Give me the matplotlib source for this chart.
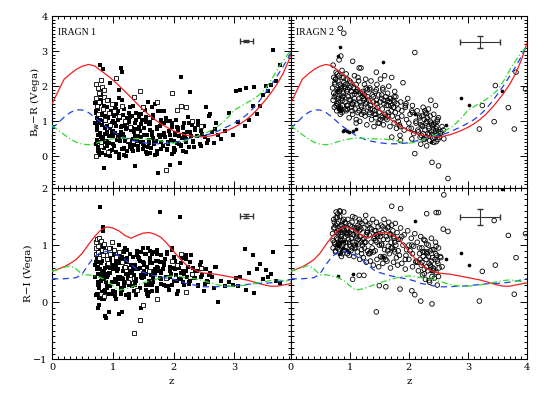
import matplotlib
matplotlib.use("Agg")
import matplotlib.pyplot as plt
from matplotlib.ticker import MultipleLocator

plt.rcParams["font.family"] = ["DejaVu Serif"]

# template redshift grid for the model tracks
tz = [0.0, 0.1, 0.2, 0.3, 0.4, 0.5, 0.6, 0.7, 0.8, 0.9, 1.0, 1.1, 1.2, 1.3,
      1.4, 1.5, 1.6, 1.7, 1.8, 1.9, 2.0, 2.1, 2.2, 2.3, 2.4, 2.5, 2.6, 2.7,
      2.8, 2.9, 3.0, 3.1, 3.2, 3.3, 3.4, 3.5, 3.6, 3.7, 3.8, 3.9, 4.0]

# Bw-R tracks
bwr_red = [1.50, 1.85, 2.20, 2.35, 2.48, 2.57, 2.62, 2.58, 2.45, 2.32, 2.18, 2.02,
           1.85, 1.68, 1.50, 1.33, 1.18, 1.04, 0.92, 0.82, 0.73, 0.66, 0.61, 0.58,
           0.56, 0.56, 0.58, 0.62, 0.68, 0.75, 0.83, 0.93, 1.05, 1.20, 1.38, 1.58,
           1.80, 2.05, 2.35, 2.75, 3.25]
bwr_blue = [0.80, 0.95, 1.12, 1.25, 1.33, 1.32, 1.25, 1.12, 0.97, 0.83, 0.72, 0.60,
            0.52, 0.46, 0.42, 0.39, 0.37, 0.36, 0.36, 0.37, 0.39, 0.43, 0.48, 0.53,
            0.57, 0.60, 0.64, 0.70, 0.78, 0.86, 0.95, 1.05, 1.18, 1.35, 1.55, 1.78,
            2.02, 2.28, 2.55, 2.85, 3.20]
bwr_green = [0.88, 0.75, 0.62, 0.50, 0.40, 0.35, 0.33, 0.36, 0.42, 0.47, 0.50, 0.52,
             0.52, 0.51, 0.50, 0.50, 0.49, 0.47, 0.44, 0.40, 0.38, 0.40, 0.45, 0.52,
             0.58, 0.65, 0.72, 0.82, 0.95, 1.12, 1.32, 1.42, 1.52, 1.62, 1.74, 1.90,
             2.15, 2.45, 2.72, 2.95, 3.15]

# R-I tracks
ri_red = [0.54, 0.58, 0.62, 0.68, 0.75, 0.86, 1.01, 1.15, 1.26, 1.32, 1.30, 1.25,
          1.17, 1.12, 1.17, 1.21, 1.22, 1.19, 1.13, 1.02, 0.89, 0.77, 0.66, 0.59,
          0.54, 0.51, 0.50, 0.49, 0.47, 0.45, 0.43, 0.41, 0.39, 0.36, 0.33, 0.30,
          0.28, 0.28, 0.30, 0.32, 0.34]
ri_blue = [0.41, 0.41, 0.41, 0.42, 0.43, 0.50, 0.66, 0.80, 0.87, 0.89, 0.86, 0.81,
           0.75, 0.66, 0.57, 0.52, 0.49, 0.46, 0.44, 0.42, 0.40, 0.37, 0.33, 0.31,
           0.29, 0.27, 0.27, 0.27, 0.28, 0.28, 0.29, 0.30, 0.31, 0.32, 0.33, 0.33,
           0.34, 0.35, 0.37, 0.39, 0.41]
ri_green = [0.54, 0.57, 0.61, 0.64, 0.58, 0.48, 0.48, 0.46, 0.43, 0.38, 0.29, 0.21,
            0.23, 0.26, 0.30, 0.34, 0.37, 0.40, 0.43, 0.45, 0.46, 0.45, 0.43, 0.42,
            0.40, 0.37, 0.34, 0.31, 0.29, 0.28, 0.28, 0.29, 0.30, 0.32, 0.34, 0.36,
            0.38, 0.39, 0.38, 0.36, 0.34]

# IRAGN 1, filled squares
z1 = [0.71, 0.72, 0.74, 0.75, 0.76, 0.78, 0.79, 0.81, 0.83, 0.85,
      0.86, 0.88, 0.89, 0.72, 0.74, 0.77, 0.80, 0.82, 0.84, 0.87,
      0.90, 0.73, 0.76, 0.79, 0.81, 0.85, 0.88, 0.71, 0.75, 0.83,
      0.78, 0.80, 0.86, 0.89, 0.74, 0.77, 0.82, 0.84, 0.87, 0.90,
      0.92, 0.94, 0.95, 0.97, 0.98, 0.93, 0.96, 0.99, 0.91, 0.95,
      1.00, 1.01, 1.02, 1.04, 1.05, 1.06, 1.08, 1.09, 1.10, 1.12,
      1.13, 1.14, 1.15, 1.17, 1.18, 1.19, 1.21, 1.22, 1.24, 1.25,
      1.26, 1.28, 1.29, 1.03, 1.07, 1.11, 1.16, 1.20, 1.23, 1.27,
      1.00, 1.05, 1.09, 1.13, 1.18, 1.22, 1.26, 1.30, 1.02, 1.15,
      1.08, 1.12, 1.19, 1.24, 1.28, 1.04, 1.10, 1.17, 1.21, 1.29,
      1.31, 1.33, 1.35, 1.36, 1.38, 1.40, 1.42, 1.44, 1.45, 1.47,
      1.48, 1.50, 1.52, 1.53, 1.55, 1.57, 1.58, 1.60, 1.62, 1.63,
      1.65, 1.67, 1.68, 1.70, 1.72, 1.74, 1.75, 1.77, 1.79, 1.80,
      1.32, 1.37, 1.41, 1.46, 1.51, 1.56, 1.61, 1.66, 1.71, 1.76,
      1.34, 1.39, 1.43, 1.49, 1.54, 1.59, 1.64, 1.69, 1.73, 1.78,
      1.36, 1.40, 1.47, 1.52, 1.58, 1.62, 1.68, 1.72, 1.78, 1.44,
      1.82, 1.84, 1.86, 1.88, 1.90, 1.92, 1.94, 1.96, 1.98, 2.00,
      2.02, 2.04, 2.06, 2.08, 2.10, 2.12, 2.14, 2.16, 2.18, 2.20,
      2.22, 2.24, 2.26, 2.28, 2.30, 1.85, 1.91, 1.97, 2.03, 2.09,
      2.15, 2.21, 2.27, 1.83, 1.89, 1.95, 2.01, 2.07, 2.13, 2.19,
      2.32, 2.35, 2.38, 2.41, 2.44, 2.47, 2.50, 2.53, 2.56, 2.60,
      2.63, 2.66, 2.70, 2.74, 2.78, 2.36, 2.45, 2.52, 2.58, 2.68,
      2.85, 2.92, 2.98, 3.02, 3.06, 3.10, 3.17, 3.20, 3.24, 3.30,
      3.33, 3.38, 3.42, 3.48, 3.52, 3.55, 3.60, 3.63, 3.68, 3.75,
      0.76, 0.84, 0.93, 0.98, 1.06, 1.11, 1.23, 1.35, 1.55, 1.65,
      0.75, 0.79, 0.83, 0.87, 0.91, 0.96, 1.01, 1.07, 1.13, 1.19,
      1.25, 1.31, 1.37, 1.43, 1.49, 1.55, 1.61, 1.67, 1.73, 1.79,
      1.85, 1.91, 1.97, 2.03, 2.09, 2.15, 2.21, 2.27, 2.33, 2.40,
      0.74, 0.78, 0.82, 0.86, 0.90, 0.95, 1.00, 1.05, 1.10, 1.15,
      1.20, 1.26, 1.33, 1.39, 1.46, 1.52, 1.59, 1.65, 1.72, 1.80,
      1.88, 1.94, 2.00, 2.06, 2.12, 2.18, 2.25, 2.32, 2.45, 2.55]
bwr1 = [1.52, 0.35, 1.10, 0.62, 1.35, 0.20, 2.60, 1.75, 0.90, -0.33,
        1.45, 0.80, 0.05, 1.25, 0.48, 0.95, 1.62, 0.30, 2.48, 1.15,
        0.70, 1.30, 0.15, 1.05, 0.55, 1.40, 0.85, 0.95, 0.40, 1.20,
        0.60, 1.55, 0.25, 1.00, 0.75, 1.48, 0.10, 1.92, 0.65, 0.45,
        1.10, 0.38, 0.82, 1.28, 0.18, 0.58, 2.08, 0.95, 1.40, 0.02,
        0.72, 1.22, 0.30, 0.95, 1.50, 0.12, 0.62, 1.05, 1.88, 0.44,
        0.85, 2.52, 0.20, 1.18, 0.55, 1.35, 0.00, 0.78, 1.10, 0.40,
        0.98, 0.28, 1.42, 0.68, 1.20, 0.50, 1.60, 0.90, 0.15, 1.25,
        0.35, 0.88, 1.30, 0.60, 0.05, 1.00, 0.45, 0.75, 1.15, 2.40,
        0.55, 1.08, 0.22, 0.82, 0.38, 1.38, -0.05, 0.65, 0.95, 1.12,
        0.80, 1.45, 0.32, -0.27, 1.05, 0.58, 0.18, 1.22, 0.72, 0.42,
        1.05, 0.35, 0.80, 1.32, 0.12, 0.62, 1.55, 0.48, 0.92, 0.25,
        0.68, 1.18, 0.40, 0.05, 0.85, -0.48, 1.30, 0.55, 0.20, 0.95,
        1.15, 0.65, 0.30, 0.92, 1.40, 0.08, 0.75, 1.10, 0.45, 0.60,
        0.50, 1.25, 0.85, 0.20, 1.05, 0.38, 0.70, 1.50, 0.15, 0.88,
        0.95, 0.45, 1.20, 0.62, 0.28, 1.00, 0.35, 0.80, 1.28, 0.72,
        0.30, 0.95, 0.55, 1.10, 0.18, 0.72, -0.24, 0.48, 0.85, 0.25,
        0.62, 1.05, 0.38, 0.80, -0.20, 2.27, 0.52, 0.15, 0.95, 0.42,
        0.70, 1.12, 0.28, 0.58, 0.90, 1.30, 0.40, 0.08, 0.68, 0.35,
        0.85, 0.50, 1.83, 0.62, 0.22, 1.00, 0.45, 0.75, 0.30, 0.55,
        0.42, 0.75, 0.58, 1.02, 0.35, 0.65, 0.88, 1.41, 0.48, 1.20,
        0.70, 0.38, 0.95, 0.60, 0.50, 0.82, 0.30, 0.55, 1.15, 0.78,
        0.72, 1.24, 0.60, 1.86, 0.98, 1.90, 0.86, 1.95, 1.05, 1.43,
        1.98, 1.20, 1.45, 1.75, 2.00, 1.86, 2.03, 3.02, 2.15, 2.60,
        0.98, 0.52, 1.60, 0.70, 0.88, 1.65, 0.95, 0.70, 1.12, 1.42,
        0.28, 0.68, 1.18, 0.42, 0.88, 0.15, 1.02, 0.48, 0.70, 0.25,
        0.82, 0.22, 0.62, 1.12, 0.40, 0.98, 0.10, 0.52, 0.78, 1.05,
        0.68, 0.35, 0.95, 0.18, 0.58, 0.82, 0.12, 0.70, 0.28, 0.90,
        0.85, 0.05, 0.50, 1.00, 0.30, 1.22, 0.58, 1.35, 0.08, 0.88,
        0.45, 1.05, 0.15, 0.78, 0.55, 0.30, 0.92, 0.62, 0.08, 0.42,
        1.00, 0.60, 0.12, 0.85, 0.32, 0.65, 0.95, 0.45, 0.72, 0.38]
ri1 = [0.45, 0.12, 0.78, 0.30, 0.62, -0.05, 1.67, 0.88, 0.40, 0.20,
       0.55, -0.25, 0.35, 0.70, 0.15, 0.92, 0.48, 0.05, 1.32, 0.60,
       0.25, 0.82, -0.10, 0.58, 0.38, 0.95, 0.18, 0.65, 0.50, 0.72,
       0.08, 0.68, 0.42, -0.28, 0.85, 0.30, 0.55, 1.25, 0.22, 0.62,
       0.48, 0.15, 0.75, 0.95, 0.35, -0.18, 0.60, 0.82, 0.28, 0.52,
       0.65, 0.20, 0.88, 0.40, 0.05, 0.72, 0.32, 0.58, 1.00, 0.45,
       0.78, 0.25, -0.18, 0.55, 0.90, 0.35, 0.62, 0.12, 0.70, 0.48,
       0.30, 0.85, 0.52, 0.18, 0.68, -0.20, 0.42, 0.95, 0.60, 0.08,
       0.58, 0.38, 0.72, 0.22, 0.88, 0.50, 0.15, 0.65, 0.35, 0.80,
       0.45, 0.68, 0.28, 0.92, 0.55, 0.10, 0.75, 0.40, 0.62, 0.32,
       0.52, 0.80, 0.20, 0.65, 0.38, 0.90, 0.58, 0.25, 0.72, -0.10,
       0.42, 0.70, 0.55, 0.85, 0.30, 0.62, 0.95, 0.18, 0.75, 0.48,
       0.68, 0.35, 0.88, 0.52, 0.25, 0.72, 0.60, 1.58, 0.40, 0.82,
       0.28, 0.58, 0.80, 0.45, 0.68, 0.15, 0.90, 0.38, 0.72, 0.55,
       0.62, 0.40, 0.75, 0.95, 0.50, 0.30, 0.85, 0.58, 0.20, 0.70,
       0.35, 0.82, 0.48, 0.65, 0.10, 0.78, 0.55, 0.92, 0.42, 0.60,
       0.58, 0.30, 0.75, 0.45, 0.85, 0.22, 0.62, 0.50, 0.95, 0.38,
       0.72, 0.48, 0.15, 0.65, 1.49, 0.40, 0.78, 0.55, 0.30, 0.82,
       0.45, 0.62, 0.35, 0.82, 0.50, 0.68, 0.28, 0.92, 0.58, 0.40,
       0.55, 0.75, 0.38, 0.70, 0.88, 0.45, 0.60, 0.20, 0.52, 0.78,
       0.60, 0.42, 0.55, 0.30, 0.65, 0.48, 0.20, 0.58, 0.35, 0.52,
       0.45, 0.25, 0.62, 0.00, 0.38, 0.55, 0.70, 0.32, 0.48, 0.62,
       0.29, 0.35, 0.30, 0.42, 0.28, 0.44, 0.94, 0.22, 0.51, 0.82,
       0.16, 0.58, 0.67, 0.40, 0.56, 0.45, 0.50, 0.88, 0.38, 0.34,
       0.70, 0.98, 0.52, 0.85, 0.62, 0.40, 0.78, 0.48, 0.85, 0.30,
       0.35, 0.72, 0.18, 0.50, 0.66, 0.28, 0.82, 0.55, 0.15, 0.60,
       0.42, 0.65, 0.30, 0.78, 0.50, 0.22, 0.68, 0.45, 0.85, 0.32,
       0.65, 0.42, 0.30, 0.72, 0.60, 0.35, 0.55, 0.70, 0.42, 0.28,
       0.58, 0.25, 0.90, 0.05, 0.45, 0.70, 0.15, 0.38, 0.85, 0.22,
       0.75, 0.32, 0.58, 0.12, 0.88, 0.45, 0.38, 0.20, 0.62, 0.52,
       0.28, 0.55, 0.80, 0.38, 0.68, 0.50, 0.32, 0.60, 0.45, 0.38]

# IRAGN 1, open squares
z1o = [0.72, 0.73, 0.73, 0.74, 0.75, 0.76, 0.77, 0.78, 0.80, 0.82,
       0.84, 0.86, 0.88, 0.90, 0.93, 0.95, 0.98, 1.02, 1.05, 1.10,
       1.15, 1.20, 1.28, 1.35, 1.44, 1.50, 1.60, 1.72, 1.87, 1.98,
       2.05, 2.12, 2.20, 2.30, 2.45, 0.80, 0.92, 1.25, 1.40, 0.85]
bwr1o = [2.05, 1.67, 0.02, 1.45, 1.95, 1.20, 1.80, 1.55, 2.19, 1.98,
         1.35, 1.70, 1.05, 1.60, 1.25, 0.90, 1.50, 1.30, 2.24, 1.15,
         1.45, 1.00, 0.85, 1.68, 1.85, 1.40, 1.10, 1.55, -0.38, 1.80,
         1.33, 1.43, 1.40, 1.02, 0.88, 0.30, 0.12, 0.48, 0.70, 1.88]
ri1o = [0.95, 1.05, 0.85, 1.10, 0.98, 0.88, 1.12, 0.78, 1.08, 0.92,
        0.82, 1.02, 0.90, 0.75, 0.95, 0.85, 1.05, 0.92, 0.80, 0.88,
        0.70, 0.62, 0.40, -0.54, -0.32, -0.05, 0.55, 0.05, 0.42, 0.72,
        0.65, 0.85, 0.17, 0.50, 0.60, 0.15, 0.68, 0.35, 0.22, 0.10]

# IRAGN 2, open circles
z2 = [0.71, 0.72, 0.73, 0.74, 0.75, 0.76, 0.77, 0.78, 0.79, 0.80,
      0.81, 0.82, 0.83, 0.84, 0.85, 0.86, 0.87, 0.88, 0.89, 0.90,
      0.72, 0.74, 0.76, 0.78, 0.80, 0.82, 0.84, 0.86, 0.88, 0.90,
      0.73, 0.75, 0.77, 0.79, 0.81, 0.83, 0.85, 0.87, 0.89, 0.91,
      0.92, 0.93, 0.94, 0.95, 0.96, 0.97, 0.98, 0.99, 1.00, 1.01,
      1.02, 1.03, 1.04, 1.05, 1.06, 1.07, 1.08, 1.09, 1.10, 1.11,
      1.12, 1.13, 1.14, 1.15, 1.16, 1.17, 1.18, 1.19, 1.20, 1.21,
      0.93, 0.96, 0.99, 1.02, 1.05, 1.08, 1.11, 1.14, 1.17, 1.20,
      1.22, 1.23, 1.24, 1.25, 1.26, 1.27, 1.28, 1.29, 1.30, 1.31,
      1.32, 1.33, 1.34, 1.35, 1.36, 1.37, 1.38, 1.39, 1.40, 1.41,
      1.42, 1.43, 1.44, 1.45, 1.46, 1.47, 1.48, 1.49, 1.50, 1.51,
      1.52, 1.53, 1.54, 1.55, 1.56, 1.57, 1.58, 1.59, 1.60, 1.61,
      1.62, 1.63, 1.64, 1.65, 1.66, 1.67, 1.68, 1.69, 1.70, 1.71,
      1.72, 1.73, 1.74, 1.75, 1.76, 1.77, 1.78, 1.79, 1.80, 1.81,
      1.82, 1.84, 1.86, 1.88, 1.90, 1.92, 1.94, 1.96, 1.98, 2.00,
      2.02, 2.04, 2.06, 2.08, 2.10, 2.12, 2.14, 2.16, 2.18, 2.20,
      2.21, 2.22, 2.23, 2.24, 2.25, 2.26, 2.27, 2.28, 2.29, 2.30,
      2.31, 2.32, 2.33, 2.34, 2.35, 2.36, 2.37, 2.38, 2.39, 2.40,
      2.41, 2.42, 2.43, 2.44, 2.45, 2.46, 2.47, 2.48, 2.49, 2.50,
      2.22, 2.26, 2.30, 2.34, 2.38, 2.42, 2.46, 2.50, 2.53, 2.56,
      1.25, 1.35, 1.45, 1.55, 1.65, 1.75, 1.85, 1.95, 2.05, 2.15,
      0.84, 0.94, 1.04, 1.14, 1.24, 1.34, 1.44, 1.54, 1.64, 1.74,
      0.84, 0.90, 1.05, 1.16, 1.45, 1.71, 1.86, 2.10, 2.39, 2.50,
      2.59, 2.66, 3.19, 3.24, 3.44, 3.46, 3.68, 3.78, 3.81, 3.97,
      1.27, 1.50, 1.61, 1.85, 2.20, 2.30, 2.46, 2.58, 1.24, 2.05,
      0.76, 0.80, 0.84, 0.88, 0.92, 0.96, 1.00, 1.04, 1.08, 1.12,
      1.16, 1.22, 1.28, 1.34, 1.40, 1.46, 1.52, 1.58, 1.64, 1.70,
      1.76, 1.82, 1.88, 1.94, 2.00, 2.06, 2.12, 2.18, 2.24, 2.30,
      2.33, 2.36, 2.39, 2.42, 2.45, 2.48, 2.51, 2.54, 2.27, 2.19,
      0.79, 0.87, 0.95, 1.03, 1.11, 1.19, 1.30, 1.42, 1.56, 1.68]
bwr2 = [1.95, 1.60, 2.25, 1.40, 2.05, 1.75, 2.40, 1.30, 1.90, 2.15,
        1.55, 2.30, 1.85, 1.20, 2.00, 1.65, 2.45, 1.45, 1.80, 2.10,
        2.60, 1.70, 2.20, 1.50, 1.85, 2.75, 1.35, 1.95, 1.60, 2.25,
        1.80, 2.10, 1.45, 2.35, 1.65, 1.90, 2.86, 1.25, 1.72, 2.00,
        1.55, 2.05, 1.30, 1.85, 2.20, 1.45, 1.70, 1.10, 1.95, 1.60,
        2.10, 1.40, 1.75, 1.20, 1.95, 1.55, 2.30, 1.35, 1.85, 1.05,
        1.50, 1.90, 1.25, 2.15, 1.65, 1.00, 1.80, 2.52, 1.40, 1.70,
        1.35, 1.90, 1.62, 2.00, 1.48, 1.78, 0.95, 2.25, 1.55, 1.20,
        1.85, 1.30, 1.65, 2.05, 1.15, 1.50, 1.95, 0.90, 1.70, 1.40,
        1.60, 1.20, 1.90, 1.45, 2.15, 1.05, 1.75, 1.35, 1.55, 0.85,
        1.30, 1.85, 1.10, 1.60, 2.05, 1.40, 0.95, 1.75, 1.25, 1.55,
        2.20, 1.15, 1.65, 1.35, 1.90, 0.90, 1.50, 2.30, 1.20, 1.70,
        1.45, 1.05, 1.80, 1.25, 2.00, 1.55, 0.85, 1.65, 1.30, 2.25,
        1.15, 1.60, 1.40, 0.95, 1.85, 1.25, 1.70, 0.80, 1.50, 1.10,
        1.35, 0.90, 1.55, 1.15, 2.10, 0.75, 1.40, 1.05, 1.65, 0.95,
        1.20, 0.80, 1.45, 0.65, 2.96, 1.00, 1.30, 0.70, 1.10, 0.90,
        0.60, 1.15, 0.85, 1.40, 0.50, 1.05, 0.75, 1.25, 0.95, 0.55,
        1.10, 0.65, 1.35, 0.80, 0.45, 1.00, 1.60, 0.70, 0.90, 0.52,
        0.75, 1.20, 0.55, 0.95, 1.45, 0.60, 0.85, 1.05, 0.48, 0.70,
        0.88, 0.48, 1.22, 0.62, 0.95, 0.40, 0.78, 1.10, 0.65, 0.85,
        1.75, 1.35, 1.90, 1.10, 1.45, 1.70, 0.85, 1.50, 1.30, 0.75,
        1.40, 2.35, 1.30, 1.85, 1.60, 1.95, 1.20, 1.75, 1.60, 1.40,
        3.65, 3.51, 2.71, 2.52, 2.40, 0.55, 0.45, 0.08, -0.17, -0.27,
        0.50, -0.63, 0.78, 1.45, 0.99, 2.02, 1.39, 0.78, 2.40, 1.92,
        2.20, 0.95, 1.10, 0.60, 0.35, 0.30, 0.42, 0.75, 1.25, 0.50,
        2.20, 1.50, 2.05, 1.70, 1.95, 1.35, 2.15, 1.50, 1.65, 1.85,
        1.30, 1.80, 1.55, 1.25, 1.70, 1.50, 1.05, 1.60, 1.15, 1.45,
        1.55, 1.00, 1.30, 1.45, 0.80, 1.25, 0.95, 1.15, 0.65, 1.00,
        0.85, 1.15, 0.62, 0.90, 0.72, 1.00, 0.55, 0.70, 1.30, 0.55,
        1.72, 2.25, 1.45, 1.85, 2.05, 1.45, 1.90, 1.20, 1.95, 1.65]
ri2 = [1.20, 0.95, 1.45, 1.05, 1.30, 0.88, 1.58, 1.12, 1.38, 1.00,
       1.25, 0.92, 1.50, 1.10, 1.35, 0.80, 1.18, 1.42, 1.02, 1.28,
       1.08, 1.40, 0.90, 1.22, 1.55, 1.00, 1.32, 1.15, 0.85, 1.45,
       1.30, 1.02, 1.48, 0.95, 1.20, 1.60, 1.08, 1.35, 0.92, 1.25,
       1.15, 1.38, 0.98, 1.28, 0.85, 1.45, 1.10, 1.22, 1.00, 1.35,
       0.90, 1.25, 1.40, 1.05, 1.18, 0.80, 1.30, 1.48, 0.95, 1.12,
       1.20, 0.88, 1.35, 1.02, 1.45, 0.75, 1.15, 1.28, 0.92, 1.38,
       1.05, 1.30, 0.82, 1.20, 1.50, 0.95, 1.25, 1.10, 1.40, 0.85,
       1.10, 0.78, 1.30, 0.95, 1.42, 1.05, 0.70, 1.22, 0.90, 1.35,
       0.85, 1.18, 1.38, 0.72, 1.05, 1.28, 0.95, 1.45, 0.65, 1.12,
       1.25, 0.90, 1.08, 1.40, 0.75, 1.15, 1.32, 0.62, 1.00, 1.20,
       0.80, 1.35, 1.02, 1.22, 0.68, 1.10, 1.45, 0.92, 1.28, 0.75,
       1.15, 0.72, 1.30, 0.98, 1.40, 0.85, 1.20, 0.60, 1.05, 1.35,
       0.95, 1.25, 0.70, 1.12, 0.88, 1.38, 1.00, 0.78, 1.22, 0.65,
       1.10, 0.82, 1.30, 0.68, 1.00, 1.18, 0.58, 0.92, 1.25, 0.75,
       0.90, 1.12, 0.62, 0.98, 1.20, 0.72, 1.05, 0.55, 0.85, 1.15,
       0.65, 0.95, 0.48, 0.80, 1.10, 0.58, 0.88, 0.40, 0.75, 1.02,
       0.85, 0.55, 1.00, 0.68, 0.35, 0.90, 0.62, 1.12, 0.45, 0.78,
       0.60, 0.92, 0.42, 0.75, 1.05, 0.52, 0.82, 0.30, 0.68, 0.95,
       0.70, 0.50, 0.88, 0.38, 0.72, 0.55, 0.98, 0.45, 0.80, 0.62,
       1.05, 0.88, 1.18, 0.78, 1.32, 0.92, 1.10, 0.82, 1.00, 0.70,
       1.05, 1.22, 0.95, 1.30, 1.12, 0.85, 1.25, 1.00, 0.90, 1.15,
       1.59, 1.58, 0.40, 0.47, -0.17, 1.68, 1.64, 0.13, -0.03, 1.57,
       1.88, 1.24, 0.02, 0.54, 1.43, 0.65, 1.17, 0.14, 0.78, 1.20,
       1.52, 0.29, 0.27, 0.23, 0.02, 1.55, 1.57, 1.28, 0.47, 0.20,
       1.35, 1.10, 1.22, 0.98, 1.40, 1.18, 1.05, 1.32, 1.00, 1.15,
       1.25, 1.00, 1.18, 1.30, 0.88, 1.05, 1.15, 0.80, 1.10, 0.95,
       1.05, 0.90, 1.15, 0.75, 1.00, 0.85, 0.70, 0.95, 0.88, 0.62,
       0.80, 0.65, 0.92, 0.58, 0.85, 0.72, 0.60, 0.78, 1.08, 0.75,
       1.48, 1.28, 1.20, 1.12, 1.30, 1.05, 1.22, 1.15, 1.32, 1.18]

# IRAGN 2, filled circles
z2f = [0.78, 0.80, 0.81, 0.82, 0.83, 0.85, 0.86, 0.88, 0.90, 0.95,
       0.98, 1.05, 1.10, 1.57, 2.11, 2.38, 2.63, 2.88, 3.02, 3.58]
bwr2f = [1.90, 2.85, 1.35, 1.40, 3.12, 1.30, 1.38, 0.72, 0.75, 0.71,
         0.70, 0.73, 0.78, 2.69, 1.20, 0.40, 0.90, 1.65, 1.47, 1.86]
ri2f = [1.00, 0.46, 0.98, 0.85, 1.05, 0.88, 0.90, 0.95, 1.08, 0.92,
        0.88, 0.49, 1.02, 0.80, 1.43, 0.55, 0.76, 0.87, 0.66, 1.99]

# typical error bars: (z, colour, z error, colour error)
err_top = [(3.2, 3.28, 0.10, 0.03), (3.2, 3.26, 0.34, 0.18)]
err_bot = [(3.2, 1.51, 0.10, 0.03), (3.2, 1.50, 0.34, 0.14)]

fig = plt.figure(figsize=(5.45, 3.94), dpi=100)
W, H = 545.0, 394.0
ax_tl = fig.add_axes([52 / W, 1 - 188 / H, 238.5 / W, 172 / H])
ax_tr = fig.add_axes([290.5 / W, 1 - 188 / H, 236.8 / W, 172 / H])
ax_bl = fig.add_axes([52 / W, 1 - 359.3 / H, 238.5 / W, 171.3 / H])
ax_br = fig.add_axes([290.5 / W, 1 - 359.3 / H, 236.8 / W, 171.3 / H])

red, blue, green = "#f02020", "#2040e8", "#30d830"


def tracks(ax, r, b, g):
    ax.plot(tz, r, color=red, lw=0.9, zorder=5)
    ax.plot(tz, b, color=blue, lw=0.9, ls=(0, (5, 3.5)), zorder=5)
    ax.plot(tz, g, color=green, lw=0.9, ls=(0, (5, 2, 1, 2)), zorder=5)


# IRAGN 1
ax_tl.scatter(z1, bwr1, marker="s", s=9, c="black", lw=0, zorder=3)
ax_tl.scatter(z1o, bwr1o, marker="s", s=10, facecolors="white", edgecolors="black", lw=0.6, zorder=3)
tracks(ax_tl, bwr_red, bwr_blue, bwr_green)
ax_bl.scatter(z1, ri1, marker="s", s=9, c="black", lw=0, zorder=3)
ax_bl.scatter(z1o, ri1o, marker="s", s=10, facecolors="white", edgecolors="black", lw=0.6, zorder=3)
tracks(ax_bl, ri_red, ri_blue, ri_green)

# IRAGN 2
ax_tr.scatter(z2, bwr2, marker="o", s=11, facecolors="none", edgecolors="black", lw=0.6, zorder=3)
ax_tr.scatter(z2f, bwr2f, marker="o", s=7, c="black", lw=0, zorder=3)
tracks(ax_tr, bwr_red, bwr_blue, bwr_green)
ax_br.scatter(z2, ri2, marker="o", s=11, facecolors="none", edgecolors="black", lw=0.6, zorder=3)
ax_br.scatter(z2f, ri2f, marker="o", s=7, c="black", lw=0, zorder=3)
tracks(ax_br, ri_red, ri_blue, ri_green)

for ax, (x, y, dx, dy) in zip([ax_tl, ax_tr], err_top):
    ax.errorbar(x, y, xerr=dx, yerr=dy, color="#333333", lw=0.8, capsize=2, zorder=6)
for ax, (x, y, dx, dy) in zip([ax_bl, ax_br], err_bot):
    ax.errorbar(x, y, xerr=dx, yerr=dy, color="#333333", lw=0.8, capsize=2, zorder=6)

ax_tl.text(0.1, 3.47, "IRAGN 1", fontsize=7, family=["Liberation Serif"], zorder=7)
ax_tr.text(0.1, 3.47, "IRAGN 2", fontsize=7, family=["Liberation Serif"], zorder=7)

for ax in [ax_tl, ax_bl]:
    ax.set_xlim(0, 3.925)
for ax in [ax_tr, ax_br]:
    ax.set_xlim(0, 4)
for ax in [ax_tl, ax_tr]:
    ax.set_ylim(-0.9, 4)
    ax.tick_params(labelbottom=False)
for ax in [ax_bl, ax_br]:
    ax.set_ylim(-1, 2)
    ax.set_xlabel("z", fontsize=7.5, labelpad=3)
for ax in [ax_tr, ax_br]:
    ax.tick_params(labelleft=False)

for ax in [ax_tl, ax_tr, ax_bl, ax_br]:
    ax.xaxis.set_major_locator(MultipleLocator(1))
    ax.xaxis.set_minor_locator(MultipleLocator(0.1))
    ax.yaxis.set_major_locator(MultipleLocator(1))
    ax.yaxis.set_minor_locator(MultipleLocator(0.1))
    ax.tick_params(which="both", direction="in", top=True, right=True, width=0.7, labelsize=7, pad=3)
    ax.tick_params(which="major", length=5)
    ax.tick_params(which="minor", length=2.5)
    for sp in ax.spines.values():
        sp.set_linewidth(0.8)

ax_tl.set_ylabel("B$_\\mathrm{w}$\u2212R (Vega)", fontsize=7.5, labelpad=0)
ax_bl.set_ylabel("R\u2212I (Vega)", fontsize=7.5, labelpad=0)

fig.savefig("out.png", dpi=100)
